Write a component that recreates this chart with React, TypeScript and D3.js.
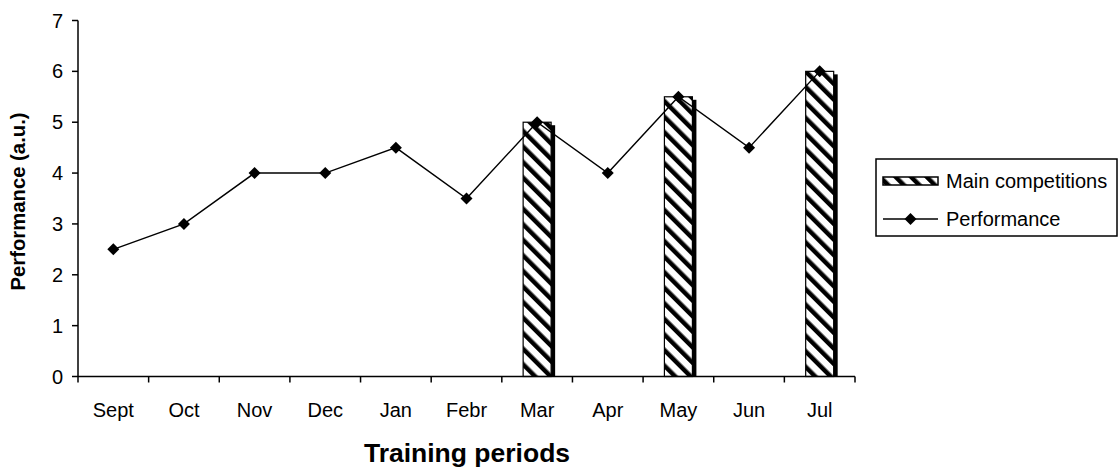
import React from "react";
import * as d3 from "d3";

const categories = ["Sept", "Oct", "Nov", "Dec", "Jan", "Febr", "Mar", "Apr", "May", "Jun", "Jul"];
const performance = [2.5, 3, 4, 4, 4.5, 3.5, 5, 4, 5.5, 4.5, 6];
const competitions: (number | null)[] = [null, null, null, null, null, null, 5, null, 5.5, null, 6];
const yTicks = [0, 1, 2, 3, 4, 5, 6, 7];
const seriesNames = ["Main competitions", "Performance"];

const W = 1120;
const H = 468;
const left = 78;
const right = 855;
const top = 20.5;
const bottom = 376.5;

export default function App() {
  const x = d3.scaleBand<string>().domain(categories).range([left, right]).padding(0);
  const y = d3.scaleLinear().domain([0, 7]).range([bottom, top]);
  const line = d3
    .line<number>()
    .x((_, i) => x(categories[i])! + x.bandwidth() / 2)
    .y((d) => y(d));
  const barW = 28;
  const font = "'Liberation Sans', Arial, sans-serif";
  const diamond = (cx: number, cy: number, r = 6) =>
    `M${cx},${cy - r}L${cx + r},${cy}L${cx},${cy + r}L${cx - r},${cy}Z`;

  const bandEdges = categories.map((c) => x(c)!).concat([right]);

  return (
    <svg width={W} height={H} style={{ position: "absolute", left: 0, top: 0, background: "#fff" }}>
      <defs>
        <pattern id="hatch" patternUnits="userSpaceOnUse" width="11" height="11" patternTransform="rotate(-45)">
          <rect x="0" y="0" width="11" height="11" fill="#fff" />
          <rect x="0" y="0" width="4.5" height="11" fill="#000" />
        </pattern>
      </defs>

      {/* bars */}
      {competitions.map((v, i) => {
        if (v == null) return null;
        const cx = x(categories[i])! + x.bandwidth() / 2;
        const bx = cx - barW / 2;
        return (
          <g key={"b" + i}>
            <rect x={bx + 4} y={y(v) + 3} width={barW} height={bottom - y(v) - 3} fill="#000" />
            <rect x={bx} y={y(v)} width={barW} height={bottom - y(v)} fill="url(#hatch)" stroke="#000" strokeWidth={1.2} />
          </g>
        );
      })}

      {/* axes */}
      <line x1={left} x2={left} y1={top} y2={bottom} stroke="#000" strokeWidth={1.5} />
      <line x1={left} x2={right} y1={bottom} y2={bottom} stroke="#000" strokeWidth={1.5} />
      {yTicks.map((t) => (
        <g key={"yt" + t}>
          <line x1={left - 6} x2={left} y1={y(t)} y2={y(t)} stroke="#000" strokeWidth={1.5} />
          <text x={left - 15} y={y(t)} dy="0.35em" textAnchor="end" fontFamily={font} fontSize={20}>
            {t}
          </text>
        </g>
      ))}
      {bandEdges.map((e, i) => (
        <line key={"xt" + i} x1={e} x2={e} y1={bottom} y2={bottom + 6} stroke="#000" strokeWidth={1.5} />
      ))}
      {categories.map((c) => (
        <text key={c} x={x(c)! + x.bandwidth() / 2} y={410} dy="0.35em" textAnchor="middle" fontFamily={font} fontSize={20}>
          {c}
        </text>
      ))}

      {/* line */}
      <path d={line(performance)!} fill="none" stroke="#000" strokeWidth={1.4} />
      {performance.map((v, i) => (
        <path key={"m" + i} d={diamond(x(categories[i])! + x.bandwidth() / 2, y(v))} fill="#000" />
      ))}

      {/* titles */}
      <text x={467} y={452.5} dy="0.35em" textAnchor="middle" fontFamily={font} fontSize={26.5} fontWeight="bold">
        Training periods
      </text>
      <text
        transform={`translate(18,${(top + bottom) / 2 + 3}) rotate(-90)`}
        dy="0.35em"
        textAnchor="middle"
        fontFamily={font}
        fontSize={20.3}
        fontWeight="bold"
      >
        Performance (a.u.)
      </text>

      {/* legend */}
      <rect x={876} y={159} width={241} height={77} fill="#fff" stroke="#000" strokeWidth={1.5} />
      <rect x={883} y={177} width={55} height={8} fill="url(#hatch)" stroke="#000" strokeWidth={1.5} />
      <text x={946} y={181} dy="0.35em" fontFamily={font} fontSize={20}>
        {seriesNames[0]}
      </text>
      <line x1={883} x2={938} y1={219} y2={219} stroke="#000" strokeWidth={1.4} />
      <path d={diamond(910.5, 219)} fill="#000" />
      <text x={946} y={219} dy="0.35em" fontFamily={font} fontSize={20}>
        {seriesNames[1]}
      </text>
    </svg>
  );
}
